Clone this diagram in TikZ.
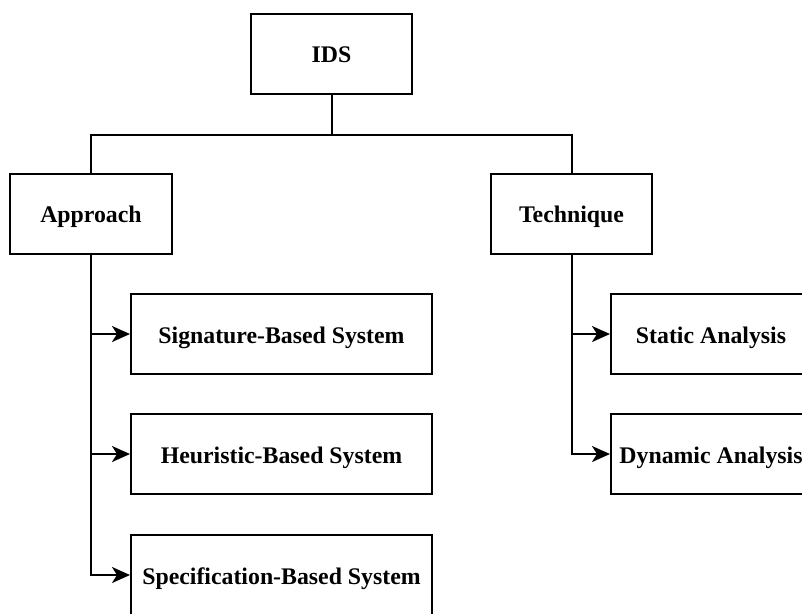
\documentclass[tikz,border=0pt]{standalone}
\usepackage{fontspec}
\setmainfont{Liberation Serif}
\usetikzlibrary{arrows.meta}
\begin{document}
\begin{tikzpicture}[x=1pt,y=-1pt,
  box/.style={draw,line width=2pt,minimum height=80pt,inner sep=0pt,font=\fontsize{23.8}{28}\selectfont\bfseries},
  lbl/.style={inner sep=0pt,font=\fontsize{23.8}{28}\selectfont\bfseries},
  conn/.style={line width=2pt},
  arr/.style={line width=2pt,-{Stealth[length=18pt,width=16pt,inset=5pt]}}]
\clip (0,0) rectangle (802,613);
\fill[white] (0,0) rectangle (802,613);
\node[box,minimum width=161pt] (ids) at (331.5,53.5) {};
\node[box,minimum width=162pt] (app) at (91,213.5) {};
\node[box,minimum width=161pt] (tec) at (571.5,213.5) {};
\node[box,minimum width=301pt] (sig) at (281.5,334) {};
\node[box,minimum width=301pt] (heu) at (281.5,454) {};
\node[box,minimum width=301pt] (spe) at (281.5,575) {};
\node[box,minimum width=200pt] (sta) at (711,334) {};
\node[box,minimum width=200pt] (dyn) at (711,454) {};
\node[lbl,anchor=base] (idst) at ([yshift=-9pt]ids.center) {IDS};
\node[lbl,anchor=base] (appt) at ([yshift=-9pt]app.center) {Approach};
\node[lbl,anchor=base] (tect) at ([yshift=-9pt]tec.center) {Technique};
\node[lbl,anchor=base] (sigt) at ([yshift=-9pt]sig.center) {Signature-Based System};
\node[lbl,anchor=base] (heut) at ([yshift=-9pt]heu.center) {Heuristic-Based System};
\node[lbl,anchor=base] (spet) at ([yshift=-9pt]spe.center) {Specification-Based System};
\node[lbl,anchor=base] (stat) at ([yshift=-9pt]sta.center) {Static Analysis};
\node[lbl,anchor=base] (dynt) at ([yshift=-9pt]dyn.center) {Dynamic Analysis};
\coordinate (jt) at (331.5,135);
\draw[conn] (ids.south) -- (jt);
\draw[conn] (app.north) |- (jt) -| (tec.north);
\draw[arr] (app.south) |- (sig.west);
\draw[arr] (app.south) |- (heu.west);
\draw[arr] (app.south) |- (spe.west);
\draw[arr] (tec.south) |- (sta.west);
\draw[arr] (tec.south) |- (dyn.west);
\end{tikzpicture}
\end{document}
